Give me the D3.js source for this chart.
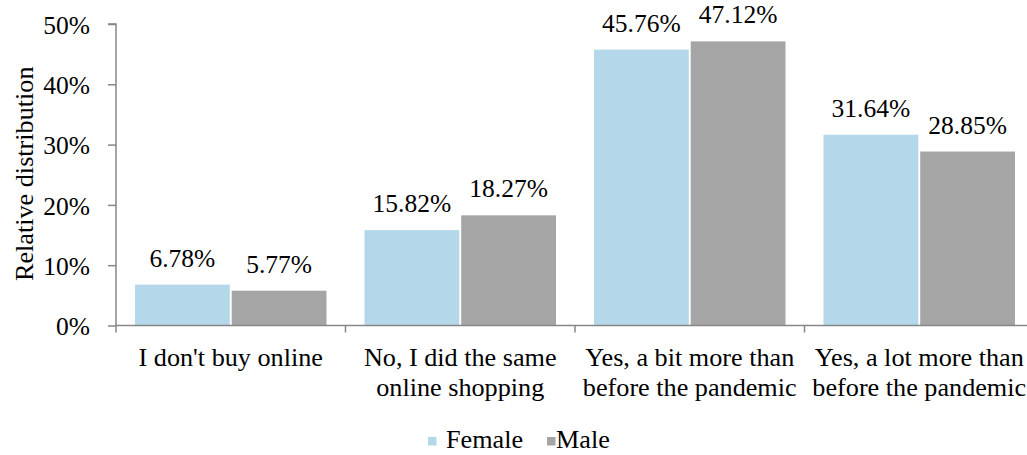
<!DOCTYPE html>
<html>
<head>
<meta charset="utf-8">
<script src="https://cdn.jsdelivr.net/npm/d3@7"></script>
<style>
  html, body { margin: 0; padding: 0; background: #fff; }
  svg { display: block; font-family: "Liberation Serif", "Times New Roman", serif; }
</style>
</head>
<body>
<svg id="chart" width="1027" height="455"></svg>
<script>
// Survey answers: did online shopping change because of the pandemic?
const categories = [
  ["I don't buy online"],
  ["No, I did the same", "online shopping"],
  ["Yes, a bit more than", "before the pandemic"],
  ["Yes, a lot more than", "before the pandemic"]
];
const seriesNames = ["Female", "Male"];
const femaleValues = [6.78, 15.82, 45.76, 31.64];
const maleValues = [5.77, 18.27, 47.12, 28.85];
const yTicks = [0, 10, 20, 30, 40, 50];
const colors = ["#B4D8EA", "#A5A5A5"];

const series = [femaleValues, maleValues];
const svg = d3.select("#chart");

const plotLeft = 116, plotTop = 24, plotBottom = 325.5, step = 229.5;
const catKeys = categories.map((c, i) => i);

const x0 = d3.scaleBand().domain(catKeys).range([plotLeft, plotLeft + step * categories.length]).padding(0);
const x1 = d3.scaleBand().domain(seriesNames).range([19, 210.5]).paddingInner(0.02);
const y = d3.scaleLinear().domain([0, 50]).range([plotBottom, plotTop]);

const axisColor = "#868686";

// Bars
const groups = svg.append("g").selectAll("g")
  .data(catKeys).join("g")
  .attr("transform", d => `translate(${x0(d)},0)`);

groups.selectAll("rect")
  .data(i => seriesNames.map((s, k) => ({ s, k, v: series[k][i] })))
  .join("rect")
  .attr("x", d => x1(d.s))
  .attr("width", x1.bandwidth())
  .attr("y", d => y(d.v))
  .attr("height", d => y(0) - y(d.v))
  .attr("fill", d => colors[d.k]);

// Value labels
groups.selectAll("text.val")
  .data(i => seriesNames.map((s, k) => ({ s, k, v: series[k][i] })))
  .join("text")
  .attr("class", "val")
  .attr("x", d => x1(d.s) + x1.bandwidth() / 2)
  .attr("y", d => y(d.v) - 18)
  .attr("text-anchor", "middle")
  .attr("font-size", 25.5)
  .attr("fill", "#000")
  .text(d => d.v.toFixed(2) + "%");

// Y axis
const yAxis = svg.append("g")
  .attr("transform", `translate(${plotLeft},0)`)
  .call(d3.axisLeft(y).tickValues(yTicks).tickSize(8).tickPadding(18).tickFormat(d => d + "%"));
yAxis.select(".domain").attr("stroke", axisColor).attr("stroke-width", 1.5)
  .attr("d", `M-8,${y(50)}H0V${y(0)}`);
yAxis.selectAll(".tick line").attr("stroke", axisColor).attr("stroke-width", 1.5);
yAxis.selectAll(".tick text")
  .attr("font-family", "Liberation Serif, Times New Roman, serif")
  .attr("font-size", 25.5).attr("fill", "#000").attr("dy", "0.36em");

// X axis
const xAxis = svg.append("g").attr("transform", `translate(0,${plotBottom})`);
xAxis.append("line")
  .attr("x1", plotLeft).attr("x2", plotLeft + step * categories.length)
  .attr("stroke", axisColor).attr("stroke-width", 1.5);
xAxis.selectAll("line.tk")
  .data(d3.range(categories.length + 1)).join("line")
  .attr("class", "tk")
  .attr("x1", i => plotLeft + step * i).attr("x2", i => plotLeft + step * i)
  .attr("y1", 0).attr("y2", 7)
  .attr("stroke", axisColor).attr("stroke-width", 1.5);

// Category labels
const catLabels = svg.append("g").selectAll("text")
  .data(catKeys).join("text")
  .attr("x", d => x0(d) + x0.bandwidth() / 2)
  .attr("y", 366)
  .attr("text-anchor", "middle")
  .attr("font-size", 26.2)
  .attr("fill", "#000");
catLabels.selectAll("tspan")
  .data(d => categories[d]).join("tspan")
  .attr("x", function () { return this.parentNode.getAttribute("x"); })
  .attr("dy", (d, i) => i === 0 ? 0 : 29.5)
  .text(d => d);

// Y axis title
svg.append("text")
  .attr("transform", `translate(33,${(y(0) + y(50)) / 2 - 1}) rotate(-90)`)
  .attr("text-anchor", "middle")
  .attr("font-size", 26.2)
  .attr("fill", "#000")
  .text("Relative distribution");

// Legend
const legendItems = [
  { name: "Female", sx: 428, tx: 446, c: colors[0] },
  { name: "Male", sx: 547, tx: 556, c: colors[1] }
];
const legend = svg.append("g");
legend.selectAll("rect").data(legendItems).join("rect")
  .attr("x", d => d.sx).attr("y", 437).attr("width", 8.5).attr("height", 8.5)
  .attr("fill", d => d.c);
legend.selectAll("text").data(legendItems).join("text")
  .attr("x", d => d.tx).attr("y", 447.5)
  .attr("font-size", 26.2).attr("fill", "#000")
  .text(d => d.name);
</script>
</body>
</html>
